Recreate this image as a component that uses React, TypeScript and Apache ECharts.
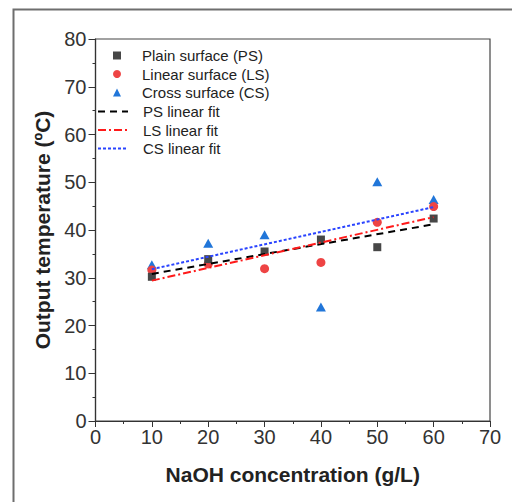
import React, { useEffect, useRef } from "react";
import * as echarts from "echarts";

const concentrations = [10, 20, 30, 40, 50, 60];
const psTemp = [30.2, 33.9, 35.5, 38.0, 36.4, 42.4];
const lsTemp = [31.6, 32.9, 31.9, 33.2, 41.6, 44.9];
const csTemp = [32.7, 37.2, 39.0, 23.9, 50.1, 46.4];
const fitX = [10, 60];
const psFit = [30.8, 41.2];
const lsFit = [29.4, 42.7];
const csFit = [31.8, 44.8];

const scatterNames = ["Plain surface (PS)", "Linear surface (LS)", "Cross surface (CS)"];
const fitNames = ["PS linear fit", "LS linear fit", "CS linear fit"];

const FONT = "'Liberation Sans', Arial, sans-serif";

const pair = (xs: number[], ys: number[]) => xs.map((x, i) => [x, ys[i]]);

export default function App() {
  const ref = useRef<HTMLDivElement>(null);
  useEffect(() => {
    if (!ref.current) return;
    const chart = echarts.init(ref.current, undefined, { renderer: "svg" });
    const axisColor = "#333";
    chart.setOption({
      animation: false,
      backgroundColor: "#fff",
      textStyle: { fontFamily: FONT },
      grid: {
        left: 95.5,
        right: 22,
        top: 39,
        bottom: 81,
        show: true,
        borderColor: "#444",
        borderWidth: 1.2,
        backgroundColor: "transparent",
      },
      graphic: [
        {
          type: "rect",
          left: 11,
          top: 7,
          shape: { x: 0, y: 0, width: 600, height: 600 },
          style: { fill: "none", stroke: "#6e6e6e", lineWidth: 2 },
          silent: true,
          z: -10,
        },
      ],
      legend: [
        {
          orient: "vertical",
          left: 113,
          top: 48,
          padding: 0,
          itemWidth: 8,
          itemHeight: 8,
          itemGap: 3.5,
          data: scatterNames,
          textStyle: { fontFamily: FONT, fontSize: 15, color: "#222", padding: [0, 0, 0, 16] },
        },
        {
          orient: "vertical",
          left: 97,
          top: 104,
          padding: 0,
          itemWidth: 30,
          itemHeight: 8,
          itemGap: 3.5,
          data: fitNames,
          itemStyle: { opacity: 0 },
          textStyle: { fontFamily: FONT, fontSize: 15, color: "#222", padding: [0, 0, 0, 10] },
        },
      ],
      xAxis: {
        type: "value",
        min: 0,
        max: 70,
        interval: 10,
        name: "NaOH concentration (g/L)",
        nameLocation: "middle",
        nameGap: 43,
        nameTextStyle: { fontFamily: FONT, fontSize: 21, fontWeight: "bold", color: "#222" },
        axisLine: { show: true, lineStyle: { color: axisColor, width: 1.2 } },
        axisTick: { show: true, inside: false, length: 6, lineStyle: { color: axisColor } },
        minorTick: { show: true, splitNumber: 2, length: 3, lineStyle: { color: axisColor } },
        axisLabel: { fontFamily: FONT, fontSize: 20, color: "#333", margin: 6 },
        splitLine: { show: false },
      },
      yAxis: {
        type: "value",
        min: 0,
        max: 80,
        interval: 10,
        name: "Output temperature (ºC)",
        nameLocation: "middle",
        nameGap: 40,
        nameTextStyle: { fontFamily: FONT, fontSize: 21, fontWeight: "bold", color: "#222" },
        axisLine: { show: true, lineStyle: { color: axisColor, width: 1.2 } },
        axisTick: { show: true, inside: false, length: 7, lineStyle: { color: axisColor } },
        minorTick: { show: true, splitNumber: 2, length: 3, lineStyle: { color: axisColor } },
        axisLabel: { fontFamily: FONT, fontSize: 20, color: "#333", margin: 9 },
        splitLine: { show: false },
      },
      series: [
        {
          name: scatterNames[2],
          type: "scatter",
          symbol: "triangle",
          symbolSize: [10, 9],
          itemStyle: { color: "#2176d9", opacity: 1 },
          data: pair(concentrations, csTemp),
        },
        {
          name: scatterNames[1],
          type: "scatter",
          symbol: "circle",
          symbolSize: 9,
          itemStyle: { color: "#ee4444", opacity: 1 },
          data: pair(concentrations, lsTemp),
        },
        {
          name: scatterNames[0],
          type: "scatter",
          symbol: "rect",
          symbolSize: 8,
          itemStyle: { color: "#474747", opacity: 1 },
          data: pair(concentrations, psTemp),
        },
        {
          name: fitNames[0],
          type: "line",
          symbol: "none",
          itemStyle: { color: "#000" },
          lineStyle: { color: "#000", width: 2, type: [7, 5] },
          data: pair(fitX, psFit),
        },
        {
          name: fitNames[1],
          type: "line",
          symbol: "none",
          itemStyle: { color: "#ff1a1a" },
          lineStyle: { color: "#ff1a1a", width: 2, type: [8, 3, 2, 3] },
          data: pair(fitX, lsFit),
        },
        {
          name: fitNames[2],
          type: "line",
          symbol: "none",
          itemStyle: { color: "#2a44ff" },
          lineStyle: { color: "#2a44ff", width: 2, type: [3, 2] },
          data: pair(fitX, csFit),
        },
      ],
    });
    return () => chart.dispose();
  }, []);
  return (
    <div
      ref={ref}
      style={{ position: "fixed", left: 0, top: 0, width: 512, height: 502 }}
    />
  );
}
